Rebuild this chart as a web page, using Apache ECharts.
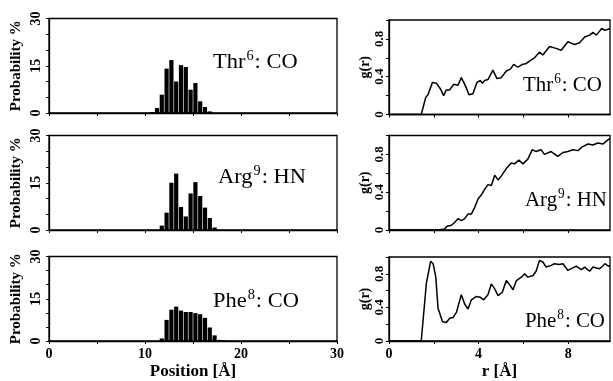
<!DOCTYPE html>
<html><head><meta charset="utf-8">
<script src="https://cdn.jsdelivr.net/npm/echarts@6/dist/echarts.min.js"></script>
<style>html,body{margin:0;padding:0;background:#fff}#c{width:613px;height:381px}</style>
</head><body><div id="c"></div>
<script>
// ---- Data: histogram bin centres (Å) and probabilities (%) ----
const thrPos  = [10.75, 11.25, 11.75, 12.25, 12.75, 13.25, 13.75, 14.25, 14.75, 15.25, 15.75, 16.25, 16.75];
const thrProb = [0.3, 1.6, 5.8, 14.1, 16.8, 10.0, 15.2, 14.6, 7.4, 9.5, 3.7, 1.9, 0.5];
const argPos  = [11.75, 12.25, 12.75, 13.25, 13.75, 14.25, 14.75, 15.25, 15.75, 16.25, 16.75, 17.25];
const argProb = [1.4, 5.5, 15.0, 17.9, 7.3, 4.3, 11.6, 15.2, 10.8, 7.1, 3.8, 0.8];
const phePos  = [11.75, 12.25, 12.75, 13.25, 13.75, 14.25, 14.75, 15.25, 15.75, 16.25, 16.75, 17.25, 17.75, 18.25];
const pheProb = [0.9, 7.5, 11.1, 12.2, 10.8, 10.3, 10.3, 9.9, 9.5, 8.2, 4.8, 2.0, 0.4, 0.2];

// ---- Data: radial distribution functions g(r) ----
const thrR = [0, 1.44, 1.64, 1.74, 1.94, 2.12, 2.3, 2.44, 2.56, 2.71, 2.89, 3.08, 3.23, 3.42, 3.57, 3.75, 3.93, 4.08, 4.17, 4.27, 4.42, 4.64, 4.82, 5.01, 5.24, 5.42, 5.57, 5.76, 5.95, 6.13, 6.31, 6.5, 6.72, 6.87, 7.17, 7.46, 7.69, 7.99, 8.29, 8.51, 8.74, 8.96, 9.11, 9.26, 9.5, 9.65, 9.87];
const thrG = [0, 0, 0.18, 0.21, 0.34, 0.33, 0.27, 0.20, 0.26, 0.26, 0.32, 0.31, 0.39, 0.30, 0.21, 0.22, 0.34, 0.36, 0.33, 0.36, 0.37, 0.47, 0.38, 0.39, 0.46, 0.48, 0.53, 0.50, 0.53, 0.54, 0.57, 0.60, 0.66, 0.63, 0.72, 0.70, 0.68, 0.77, 0.74, 0.76, 0.82, 0.84, 0.87, 0.84, 0.91, 0.89, 0.91];
const argR = [0, 2.19, 2.49, 2.59, 2.79, 2.93, 3.08, 3.23, 3.38, 3.53, 3.68, 3.83, 3.98, 4.12, 4.27, 4.42, 4.57, 4.72, 4.87, 5.01, 5.24, 5.46, 5.61, 5.8, 5.98, 6.2, 6.4, 6.57, 6.79, 6.94, 7.24, 7.54, 7.77, 7.99, 8.21, 8.44, 8.63, 8.89, 9.11, 9.33, 9.56, 9.71, 9.87];
const argG = [0, 0, 0.01, 0.04, 0.05, 0.08, 0.12, 0.10, 0.12, 0.17, 0.17, 0.24, 0.33, 0.37, 0.43, 0.48, 0.47, 0.58, 0.53, 0.57, 0.65, 0.71, 0.70, 0.74, 0.70, 0.75, 0.85, 0.83, 0.85, 0.80, 0.83, 0.78, 0.82, 0.83, 0.85, 0.84, 0.88, 0.91, 0.90, 0.92, 0.91, 0.94, 0.97];
const pheR = [0, 1.44, 1.67, 1.86, 1.97, 2.09, 2.19, 2.39, 2.56, 2.71, 2.86, 3.01, 3.23, 3.38, 3.53, 3.68, 3.9, 4.08, 4.23, 4.42, 4.57, 4.72, 4.87, 5.06, 5.24, 5.36, 5.54, 5.69, 5.91, 6.06, 6.2, 6.43, 6.57, 6.72, 6.87, 7.02, 7.24, 7.39, 7.61, 7.77, 7.99, 8.21, 8.36, 8.59, 8.74, 8.96, 9.11, 9.26, 9.41, 9.65, 9.8, 9.87];
const pheG = [0, 0, 0.69, 0.95, 0.92, 0.76, 0.39, 0.23, 0.22, 0.27, 0.28, 0.34, 0.55, 0.44, 0.38, 0.49, 0.53, 0.52, 0.49, 0.55, 0.68, 0.62, 0.54, 0.58, 0.72, 0.68, 0.61, 0.72, 0.76, 0.80, 0.76, 0.78, 0.83, 0.96, 0.94, 0.88, 0.90, 0.92, 0.91, 0.92, 0.84, 0.87, 0.89, 0.85, 0.88, 0.83, 0.88, 0.87, 0.86, 0.92, 0.89, 0.90];

// ---- Axis tick labels ----
const posTicks = [0, 5, 10, 15, 20, 25, 30];
const posLabels = [0, 10, 20, 30];
const probLabels = [0, 15, 30];
const rTicks = [0, 2, 4, 6, 8];
const rLabels = [0, 4, 8];
const gLabels = [0, 0.4, 0.8];

// ---- Panel titles ----
const panelNames = [['Thr', '6', ': CO'], ['Arg', '9', ': HN'], ['Phe', '8', ': CO']];

const FONT = '"Liberation Serif", "Times New Roman", serif';
const leftTops = [18.5, 135.5, 256.5];
const rightTops = [20, 135.5, 257];
const PH = 94.5;
const LL = 49, LW = 288, RL = 389, RW = 221;
const RMAX = 9.87;

const grids = [], xAxes = [], yAxes = [], series = [];
const hist = [[thrPos, thrProb], [argPos, argProb], [phePos, pheProb]];
const gr = [[thrR, thrG], [argR, argG], [pheR, pheG]];

const axLine = { show: true, onZero: false, lineStyle: { color: '#000', width: 1.3 } };

for (let i = 0; i < 3; i++) {
  const bottom = i === 2;
  // left histogram panel
  grids.push({ left: LL, top: leftTops[i], width: LW, height: PH, show: true, borderColor: '#000', borderWidth: 1.3, containLabel: false });
  xAxes.push({
    type: 'value', gridIndex: 2 * i, min: 0, max: 30, interval: 5,
    axisLine: axLine, splitLine: { show: false },
    axisTick: { show: true, length: 3, lineStyle: { color: '#000' }, customValues: posTicks },
    axisLabel: { show: bottom, customValues: posLabels, color: '#000', fontFamily: FONT, fontWeight: 'bold', fontSize: 14, margin: 6 },
    name: bottom ? 'Position [Å]' : '', nameLocation: 'middle', nameGap: 22,
    nameTextStyle: { color: '#000', fontFamily: FONT, fontWeight: 'bold', fontSize: 17 }
  });
  yAxes.push({
    type: 'value', gridIndex: 2 * i, min: 0, max: 30, interval: 5,
    axisLine: axLine, splitLine: { show: false },
    axisTick: { show: true, length: 3, lineStyle: { color: '#000' } },
    axisLabel: { show: true, customValues: probLabels, rotate: 90, color: '#000', fontFamily: FONT, fontWeight: 'bold', fontSize: 14, margin: 6 },
    name: 'Probability %', nameLocation: 'middle', nameGap: 25, nameRotate: 90,
    nameTextStyle: { color: '#000', fontFamily: FONT, fontWeight: 'bold', fontSize: 15 }
  });
  series.push({
    type: 'bar', xAxisIndex: 2 * i, yAxisIndex: 2 * i,
    barWidth: LW / 30 * 0.5 - 0.6,
    itemStyle: { color: '#000' },
    data: hist[i][0].map((x, k) => [x, hist[i][1][k]]),
    silent: true, animation: false
  });
  // right g(r) panel
  grids.push({ left: RL, top: rightTops[i], width: RW, height: PH, show: true, borderColor: '#000', borderWidth: 1.3, containLabel: false });
  xAxes.push({
    type: 'value', gridIndex: 2 * i + 1, min: 0, max: RMAX,
    axisLine: axLine, splitLine: { show: false },
    axisTick: { show: true, length: 3, lineStyle: { color: '#000' }, customValues: rTicks },
    axisLabel: { show: bottom, customValues: rLabels, color: '#000', fontFamily: FONT, fontWeight: 'bold', fontSize: 14, margin: 6 },
    name: bottom ? 'r [Å]' : '', nameLocation: 'middle', nameGap: 22,
    nameTextStyle: { color: '#000', fontFamily: FONT, fontWeight: 'bold', fontSize: 17 }
  });
  yAxes.push({
    type: 'value', gridIndex: 2 * i + 1, min: 0, max: 1, interval: 0.2,
    axisLine: axLine, splitLine: { show: false },
    axisTick: { show: true, length: 3, lineStyle: { color: '#000' } },
    axisLabel: { show: true, customValues: gLabels, rotate: 90, color: '#000', fontFamily: FONT, fontWeight: 'bold', fontSize: 13, margin: 3 },
    name: 'g(r)', nameLocation: 'middle', nameGap: 16, nameRotate: 90,
    nameTextStyle: { color: '#000', fontFamily: FONT, fontWeight: 'bold', fontSize: 14 }
  });
  series.push({
    type: 'line', xAxisIndex: 2 * i + 1, yAxisIndex: 2 * i + 1,
    showSymbol: false, symbol: 'none',
    lineStyle: { color: '#000', width: 1.5 },
    data: gr[i][0].map((x, k) => [x, gr[i][1][k]]),
    silent: true, animation: false
  });
}

// annotation labels
const labelPos = [
  [[213, 49.5], [523, 72]],
  [[218, 164.5], [525, 187]],
  [[213, 288], [525, 308]]
];
const labelScale = [1.02, 0.95];
const graphics = [];
for (let i = 0; i < 3; i++) {
  for (let j = 0; j < 2; j++) {
    const [a, s, b] = panelNames[i];
    graphics.push({
      type: 'text', x: labelPos[i][j][0], y: labelPos[i][j][1], scaleX: labelScale[j], silent: true,
      style: {
        text: '{m|' + a + '}{s|' + s + '}{m|' + b + '}',
        align: 'left', verticalAlign: 'top',
        rich: {
          m: { fontFamily: FONT, fontSize: 22, lineHeight: 24, fill: '#000', verticalAlign: 'bottom' },
          s: { fontFamily: FONT, fontSize: 14, lineHeight: 14, fill: '#000', verticalAlign: 'top', padding: [0, 1, 0, 1] }
        }
      }
    });
  }
}

const chart = echarts.init(document.getElementById('c'), null, { renderer: 'canvas' });
chart.setOption({
  animation: false,
  backgroundColor: '#fff',
  grid: grids, xAxis: xAxes, yAxis: yAxes, series: series,
  graphic: graphics
});
</script>
</body></html>
